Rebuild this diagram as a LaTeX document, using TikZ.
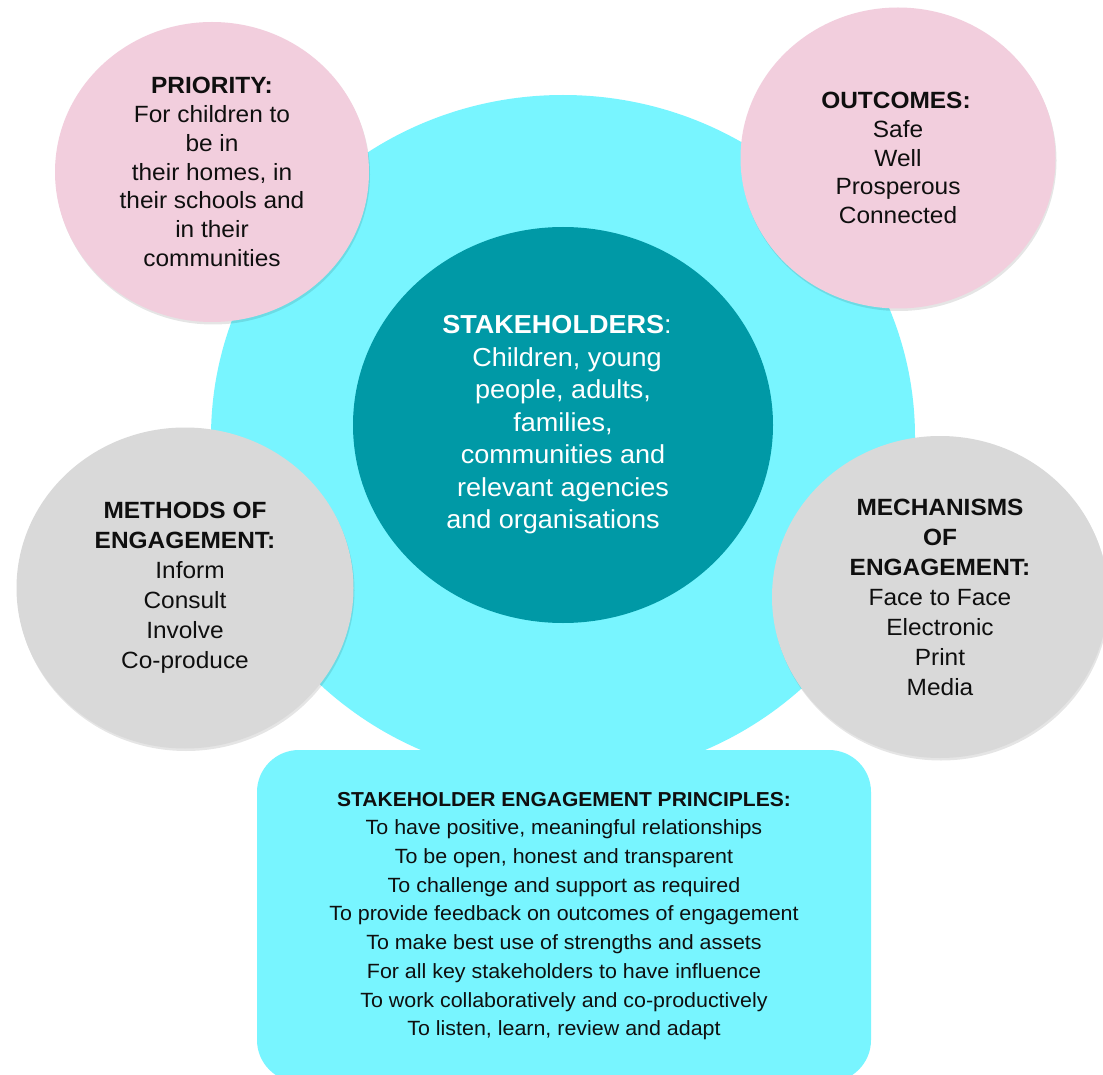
\documentclass[tikz,border=0pt]{standalone}
\usepackage{fontspec}
\setmainfont{Liberation Sans}[FakeStretch=1.04]
\usetikzlibrary{shapes.geometric,shadows}
\definecolor{cyanbg}{RGB}{120,245,255}
\definecolor{tealc}{RGB}{0,153,166}
\definecolor{pinkc}{RGB}{242,206,221}
\definecolor{grayc}{RGB}{217,217,217}
\definecolor{inkc}{RGB}{15,15,15}
\tikzset{
  bubble/.style={ellipse, draw=none, inner sep=0pt, align=center, text=inkc},
  shade/.style={drop shadow={shadow xshift=1pt, shadow yshift=-2.5pt, opacity=0.10, fill=black}},
  pinkbubble/.style={bubble, shade, fill=pinkc, font=\fontsize{23.5}{28.8}\selectfont},
  graybubble/.style={bubble, shade, fill=grayc, font=\fontsize{23.5}{30}\selectfont},
  principlebox/.style={rectangle, rounded corners=42pt, fill=cyanbg, draw=none, inner sep=0pt,
    align=center, text=inkc, font=\fontsize{20.6}{28.7}\selectfont}
}
\begin{document}
\begin{tikzpicture}[x=1pt,y=-1pt]
\useasboundingbox (0,0) rectangle (1103,1075);
\fill[white] (0,0) rectangle (1103,1075);
% big background circle
\node[bubble, fill=cyanbg, minimum width=704pt, minimum height=684pt] (bg) at (563,437) {};
% central stakeholders circle
\node[bubble, fill=tealc, text=white, minimum width=420pt, minimum height=396pt,
  font=\fontsize{26}{32.5}\selectfont] (stake) at (563,425)
  {\textbf{STAKEHOLDERS}:\hspace*{12pt}\\\hspace*{8pt}Children, young\\people, adults,\\families,\\communities and\\relevant agencies\\and organisations\hspace*{20pt}};
% priority
\node[pinkbubble, minimum width=314pt, minimum height=300pt] (priority) at (212,172)
  {\textbf{PRIORITY:}\\For children to\\be in\\their homes, in\\their schools and\\in their\\communities};
% outcomes
\node[pinkbubble, minimum width=315pt, minimum height=301pt] (outcomes) at (898,158)
  {\hspace*{-4pt}\textbf{OUTCOMES:}\\Safe\\Well\\Prosperous\\Connected};
% methods
\node[graybubble, minimum width=337pt, minimum height=321pt] (methods) at (185,588)
  {\textbf{METHODS OF}\\\textbf{ENGAGEMENT:}\\\hspace*{10pt}Inform\\Consult\\Involve\\Co-produce};
% mechanisms
\node[graybubble, minimum width=336pt, minimum height=322pt] (mechanisms) at (940,597)
  {\textbf{MECHANISMS}\\\textbf{OF}\\\textbf{ENGAGEMENT:}\\Face to Face\\Electronic\\Print\\Media};
% principles box
\node[principlebox, minimum width=614pt, minimum height=332pt] (principles) at (564,916)
  {{\fontsize{20.2}{28.7}\selectfont\textbf{STAKEHOLDER ENGAGEMENT PRINCIPLES:}}\\
   To have positive, meaningful relationships\\
   To be open, honest and transparent\\
   To challenge and support as required\\
   To provide feedback on outcomes of engagement\\
   To make best use of strengths and assets\\
   For all key stakeholders to have influence\\
   To work collaboratively and co-productively\\
   To listen, learn, review and adapt};
\end{tikzpicture}
\end{document}
